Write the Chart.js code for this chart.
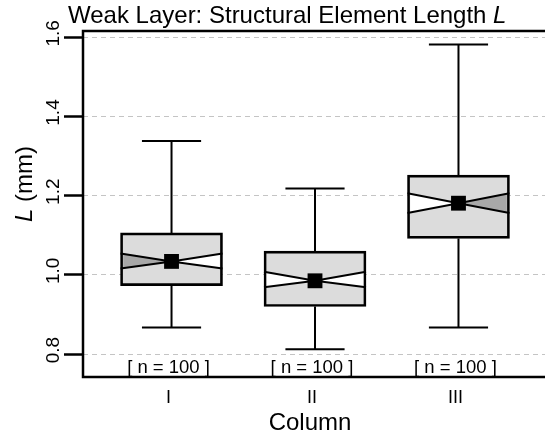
<!DOCTYPE html>
<html>
<head>
<meta charset="utf-8">
<script src="https://cdn.jsdelivr.net/npm/chart.js@4.4.1/dist/chart.umd.min.js"></script>
<style>
  html, body { margin: 0; padding: 0; background: #fff; }
</style>
</head>
<body>
<canvas id="chart" width="545" height="432"></canvas>
<script>
// data
const categories = ['I', 'II', 'III'];
const q1 = [0.973, 0.920, 1.092];
const q3 = [1.106, 1.060, 1.252];
const medians = [1.034, 0.985, 1.181];
const means = [1.034, 0.985, 1.181];
const notchLow = [1.016, 0.969, 1.156];
const notchHigh = [1.054, 1.008, 1.206];
const whiskerLow = [0.867, 0.812, 0.867];
const whiskerHigh = [1.338, 1.218, 1.582];
const sampleSizes = [100, 100, 100];
const yTicks = [0.8, 1.0, 1.2, 1.4, 1.6];
// shaded half of the notch: -1 left, 1 right, 0 none
const notchShade = [-1, 0, 1];

const FONT = '"Liberation Sans", Arial, Helvetica, sans-serif';

// text helper, parts can be italic
function drawText(ctx, parts, x, y, opts) {
  opts = opts || {};
  const size = opts.size || 18;
  ctx.save();
  ctx.translate(x, y);
  if (opts.rotate) ctx.rotate(opts.rotate);
  ctx.fillStyle = '#000';
  ctx.textBaseline = 'alphabetic';
  ctx.textAlign = 'left';
  let total = 0;
  parts.forEach(p => {
    ctx.font = (p.italic ? 'italic ' : '') + size + 'px ' + FONT;
    total += ctx.measureText(p.text).width;
  });
  let cx = opts.align === 'left' ? 0 : -total / 2;
  parts.forEach(p => {
    ctx.font = (p.italic ? 'italic ' : '') + size + 'px ' + FONT;
    ctx.fillText(p.text, cx, 0);
    cx += ctx.measureText(p.text).width;
  });
  ctx.restore();
}

const boxParts = {
  id: 'boxParts',
  beforeDatasetsDraw(chart) {
    const {ctx, scales: {y}} = chart;
    const bars = chart.getDatasetMeta(0).data;
    ctx.save();
    ctx.strokeStyle = '#000';
    ctx.lineWidth = 2;
    bars.forEach((bar, i) => {
      const cap = bar.width * 0.29;
      const yLo = y.getPixelForValue(whiskerLow[i]);
      const yHi = y.getPixelForValue(whiskerHigh[i]);
      ctx.beginPath();
      ctx.moveTo(bar.x, yHi);
      ctx.lineTo(bar.x, y.getPixelForValue(q3[i]));
      ctx.moveTo(bar.x, yLo);
      ctx.lineTo(bar.x, y.getPixelForValue(q1[i]));
      ctx.moveTo(bar.x - cap, yHi);
      ctx.lineTo(bar.x + cap, yHi);
      ctx.moveTo(bar.x - cap, yLo);
      ctx.lineTo(bar.x + cap, yLo);
      ctx.stroke();
    });
    ctx.restore();
  },
  afterDatasetDraw(chart, args) {
    if (args.index !== 0) return;
    const {ctx, scales: {y}} = chart;
    const bars = chart.getDatasetMeta(0).data;
    ctx.save();
    bars.forEach((bar, i) => {
      const xl = bar.x - bar.width / 2, xr = bar.x + bar.width / 2;
      const ym = y.getPixelForValue(medians[i]);
      const ya = y.getPixelForValue(notchHigh[i]);
      const yb = y.getPixelForValue(notchLow[i]);
      const inset = 2.7;
      ctx.fillStyle = notchShade[i] < 0 ? '#a8a8a8' : '#ffffff';
      ctx.beginPath();
      ctx.moveTo(xl + inset, ya); ctx.lineTo(bar.x, ym); ctx.lineTo(xl + inset, yb);
      ctx.closePath(); ctx.fill();
      ctx.fillStyle = notchShade[i] > 0 ? '#a8a8a8' : '#ffffff';
      ctx.beginPath();
      ctx.moveTo(xr - inset, ya); ctx.lineTo(bar.x, ym); ctx.lineTo(xr - inset, yb);
      ctx.closePath(); ctx.fill();
      ctx.strokeStyle = '#000';
      ctx.lineWidth = 2;
      ctx.beginPath();
      ctx.moveTo(xl, ya); ctx.lineTo(bar.x, ym); ctx.lineTo(xr, ya);
      ctx.moveTo(xl, yb); ctx.lineTo(bar.x, ym); ctx.lineTo(xr, yb);
      ctx.stroke();
    });
    ctx.restore();
  },
  afterDraw(chart) {
    const {ctx, chartArea: a, scales: {x, y}} = chart;
    // frame
    ctx.save();
    ctx.strokeStyle = '#000';
    ctx.lineWidth = 2.5;
    ctx.beginPath();
    ctx.moveTo(a.right + 2, a.top);
    ctx.lineTo(a.left, a.top);
    ctx.lineTo(a.left, a.bottom);
    ctx.lineTo(a.right + 2, a.bottom);
    ctx.stroke();
    ctx.restore();

    // y tick labels, rotated
    y.ticks.forEach(t => {
      drawText(ctx, [{text: t.value.toFixed(1)}], 59, y.getPixelForValue(t.value) - 4,
        {size: 19, rotate: -Math.PI / 2});
    });

    // n labels and category labels
    categories.forEach((c, i) => {
      const cx = x.getPixelForValue(i + 1) - 3;
      drawText(ctx, [{text: '[ n = ' + sampleSizes[i] + ' ]'}], cx, a.bottom - 4, {size: 18.5});
      drawText(ctx, [{text: c}], cx, 403, {size: 18});
    });

    // titles
    drawText(ctx, [{text: 'Weak Layer: Structural Element Length '}, {text: 'L', italic: true}],
      68, 23, {size: 24, align: 'left'});
    drawText(ctx, [{text: 'Column'}], 310, 430, {size: 24});
    drawText(ctx, [{text: 'L', italic: true}, {text: ' (mm)'}], 32, 184,
      {size: 24, rotate: -Math.PI / 2});
  }
};

new Chart(document.getElementById('chart'), {
  type: 'bar',
  data: {
    datasets: [{
      type: 'bar',
      data: categories.map((c, i) => ({x: i + 1, y: [q1[i], q3[i]]})),
      backgroundColor: '#dcdcdc',
      borderColor: '#000',
      borderWidth: 2.7,
      borderSkipped: false,
      barThickness: 102,
      order: 1
    }, {
      type: 'scatter',
      data: categories.map((c, i) => ({x: i + 1, y: means[i]})),
      pointStyle: 'rect',
      pointRadius: 10.5,
      backgroundColor: '#000',
      borderWidth: 0,
      order: 0
    }]
  },
  options: {
    responsive: false,
    animation: false,
    layout: { autoPadding: false, padding: { left: 64, top: 31, right: 0, bottom: 55 } },
    plugins: { legend: { display: false }, tooltip: { enabled: false } },
    scales: {
      x: {
        type: 'linear',
        display: false,
        offset: false,
        min: 0.383,
        max: 3.603
      },
      y: {
        min: 0.742,
        max: 1.616,
        afterBuildTicks: scale => { scale.ticks = yTicks.map(v => ({value: v})); },
        ticks: { display: false },
        border: { display: false, dash: [5, 4] },
        grid: {
          color: '#c4c4c4',
          lineWidth: 1,
          drawTicks: true,
          tickLength: 19,
          tickColor: '#000',
          tickWidth: 2.5
        }
      }
    }
  },
  plugins: [boxParts]
});
</script>
</body>
</html>
